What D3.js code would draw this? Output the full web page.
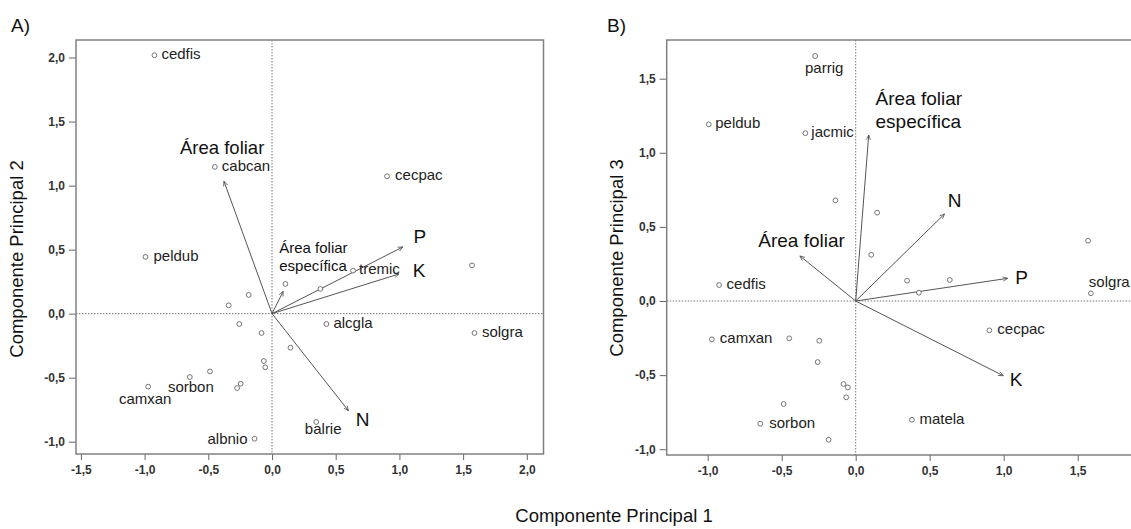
<!DOCTYPE html>
<html>
<head>
<meta charset="utf-8">
<script src="https://cdn.jsdelivr.net/npm/d3@7"></script>
<style>
  html, body { margin: 0; padding: 0; background: #fff; }
  svg { display: block; font-family: "Liberation Sans", Arial, sans-serif; }
</style>
</head>
<body>
<svg id="chart" width="1131" height="529"></svg>
<script>
// ---------------- DATA ----------------
// 24 species scores on the principal components
const pc1 = [-0.993, -0.972, -0.923, -0.645, -0.487, -0.449, -0.340, -0.274, -0.257, -0.246, -0.183, -0.137,
             -0.082, -0.064, -0.053, 0.105, 0.145, 0.347, 0.380, 0.427, 0.636, 0.903, 1.570, 1.589];
const pc2 = [0.443, -0.570, 2.018, -0.495, -0.451, 1.146, 0.065, -0.581, -0.081, -0.547, 0.146, -0.977,
             -0.151, -0.370, -0.419, 0.232, -0.266, -0.846, 0.193, -0.081, 0.336, 1.073, 0.377, -0.151];
const pc3 = [1.192, -0.258, 0.108, -0.828, -0.695, -0.252, 1.132, 1.653, -0.412, -0.268, -0.936, 0.679,
             -0.560, -0.650, -0.583, 0.312, 0.596, 0.137, -0.801, 0.056, 0.142, -0.198, 0.407, 0.052];
// species labels shown in each panel ("" = unlabelled)
const labelsA = ["peldub", "camxan", "cedfis", "sorbon", "", "cabcan", "", "", "", "", "", "albnio",
                 "", "", "", "", "", "balrie", "", "alcgla", "tremic", "cecpac", "", "solgra"];
const labelsB = ["peldub", "camxan", "cedfis", "sorbon", "", "", "jacmic", "parrig", "", "", "", "",
                 "", "", "", "", "", "", "matela", "", "", "cecpac", "", "solgra"];

// variable loadings (arrows)
const variables = ["Área foliar", "Área foliar específica", "P", "K", "N"];
const load1 = [-0.377, 0.088, 1.027, 0.997, 0.600];
const load2 = [1.034, 0.174, 0.521, 0.310, -0.758];
const load3 = [0.304, 1.120, 0.153, -0.504, 0.587];

// ticks
const ticksAx = [-1.5, -1.0, -0.5, 0.0, 0.5, 1.0, 1.5, 2.0];
const ticksAy = [-1.0, -0.5, 0.0, 0.5, 1.0, 1.5, 2.0];
const ticksBx = [-1.0, -0.5, 0.0, 0.5, 1.0, 1.5];
const ticksBy = [-1.0, -0.5, 0.0, 0.5, 1.0, 1.5];

const titleX = "Componente Principal 1";
const titleA = "Componente Principal 2";
const titleB = "Componente Principal 3";

// ---------------- LAYOUT ----------------
const fmt = v => d3.format(".1f")(v).replace(".", ",").replace("−", "-");

const svg = d3.select("#chart");
const defs = svg.append("defs");
defs.append("marker")
  .attr("id", "arr").attr("viewBox", "0 0 10 10")
  .attr("refX", 9).attr("refY", 5)
  .attr("markerWidth", 6).attr("markerHeight", 6)
  .attr("orient", "auto")
  .append("path").attr("d", "M1,1.5 L9,5 L1,8.5")
  .attr("fill", "none").attr("stroke", "#555").attr("stroke-width", 1.3);

// label placements (pixels relative to point): [dx, dy, anchor]
const placeA = {
  peldub: [8, 4, "start"], camxan: [-3, 17, "middle"], cedfis: [7, 4, "start"],
  sorbon: [1, 14.5, "middle"], cabcan: [7, 4, "start"], albnio: [-7, 5, "end"],
  balrie: [7, 12, "middle"], alcgla: [7, 4, "start"], tremic: [6, 3, "start"],
  cecpac: [8, 4, "start"], solgra: [7.5, 4, "start"]
};
const placeB = {
  peldub: [6.5, 4, "start"], camxan: [8, 4, "start"], cedfis: [7.5, 4, "start"],
  sorbon: [9, 4.5, "start"], jacmic: [6, 4, "start"], parrig: [9, 17, "middle"],
  matela: [7.5, 4, "start"], cecpac: [8, 4, "start"], solgra: [-2, -6, "start"]
};
// arrow label placements relative to arrow tip: [dx, dy, anchor, size, lines, lineHeight]
const varPlaceA = [
  [-1.8, -27, "middle", 18.5, ["Área foliar"], 0],
  [-4, -38.4, "start", 15, ["Área foliar", "específica"], 17.7],
  [10.7, -4.3, "start", 19, ["P"], 0],
  [13.6, 3, "start", 19, ["K"], 0],
  [7.2, 15.7, "start", 19, ["N"], 0]
];
const varPlaceB = [
  [1.7, -9.3, "middle", 19, ["Área foliar"], 0],
  [6.8, -30, "start", 19, ["Área foliar", "específica"], 23.3],
  [7.5, 5.7, "start", 19, ["P"], 0],
  [6.5, 10, "start", 19, ["K"], 0],
  [3.2, -7.3, "start", 19, ["N"], 0]
];

function panel(cfg) {
  const g = svg.append("g");
  const x = d3.scaleLinear().domain(cfg.xDomain).range([cfg.left, cfg.right]);
  const y = d3.scaleLinear().domain(cfg.yDomain).range([cfg.bottom, cfg.top]);

  // zero reference lines
  g.append("line").attr("x1", x(0)).attr("x2", x(0)).attr("y1", cfg.top).attr("y2", cfg.bottom)
    .attr("stroke", "#777").attr("stroke-width", 1).attr("stroke-dasharray", "1.5,1.5");
  g.append("line").attr("x1", cfg.left).attr("x2", cfg.right).attr("y1", y(0)).attr("y2", y(0))
    .attr("stroke", "#777").attr("stroke-width", 1).attr("stroke-dasharray", "1.5,1.5");

  // axes
  const ax = g.append("g").attr("transform", `translate(0,${cfg.bottom})`)
    .call(d3.axisBottom(x).tickValues(cfg.ticksX).tickFormat(fmt).tickSize(6).tickPadding(5));
  const ay = g.append("g").attr("transform", `translate(${cfg.left},0)`)
    .call(d3.axisLeft(y).tickValues(cfg.ticksY).tickFormat(fmt).tickSize(7).tickPadding(4));
  [ax, ay].forEach(a => {
    a.select(".domain").remove();
    a.selectAll(".tick line").attr("stroke", "#666");
    a.selectAll(".tick text").attr("fill", "#333").attr("font-size", 12)
      .attr("font-weight", "bold").attr("font-family", "'Liberation Sans', Arial, sans-serif");
  });

  // frame
  g.append("rect").attr("x", cfg.left).attr("y", cfg.top)
    .attr("width", cfg.right - cfg.left).attr("height", cfg.bottom - cfg.top)
    .attr("fill", "none").attr("stroke", "#808080").attr("stroke-width", 1.5);

  // arrows
  variables.forEach((v, i) => {
    g.append("line")
      .attr("x1", x(0)).attr("y1", y(0))
      .attr("x2", x(load1[i])).attr("y2", y(cfg.loadY[i]))
      .attr("stroke", "#555").attr("stroke-width", 1)
      .attr("marker-end", "url(#arr)");
  });

  // points
  g.selectAll("circle.pt").data(pc1.map((v, i) => ({ x: v, y: cfg.scoresY[i] })))
    .enter().append("circle").attr("class", "pt")
    .attr("cx", d => x(d.x)).attr("cy", d => y(d.y)).attr("r", 2.4)
    .attr("fill", "#fff").attr("stroke", "#666").attr("stroke-width", 0.9);

  // species labels
  cfg.labels.forEach((lab, i) => {
    if (!lab) return;
    const p = cfg.place[lab];
    g.append("text").attr("x", x(pc1[i]) + p[0]).attr("y", y(cfg.scoresY[i]) + p[1])
      .attr("text-anchor", p[2]).attr("font-size", 15).attr("fill", "#222").text(lab);
  });

  // variable labels
  variables.forEach((v, i) => {
    const p = cfg.varPlace[i];
    const t = g.append("text").attr("x", x(load1[i]) + p[0]).attr("y", y(cfg.loadY[i]) + p[1])
      .attr("text-anchor", p[2]).attr("font-size", p[3]).attr("fill", "#111");
    p[4].forEach((line, k) => {
      t.append("tspan").attr("x", x(load1[i]) + p[0]).attr("dy", k === 0 ? 0 : p[5]).text(line);
    });
  });

  // y title
  g.append("text")
    .attr("transform", `translate(${cfg.yTitleX},${cfg.yTitleY}) rotate(-90)`)
    .attr("text-anchor", "middle").attr("font-size", 18.5).attr("fill", "#111").text(cfg.yTitle);
  // panel letter
  g.append("text").attr("x", cfg.letterX).attr("y", 32).attr("font-size", 19).attr("fill", "#111").text(cfg.letter);
}

panel({
  left: 76, right: 543.5, top: 40, bottom: 454,
  xDomain: [-1.5385, 2.131], yDomain: [-1.096, 2.137],
  ticksX: ticksAx, ticksY: ticksAy,
  scoresY: pc2, loadY: load2, labels: labelsA, place: placeA, varPlace: varPlaceA,
  yTitle: titleA, yTitleX: 23, yTitleY: 259, letter: "A)", letterX: 11
});
panel({
  left: 666.7, right: 1140, top: 40, bottom: 455,
  xDomain: [-1.277, 1.921], yDomain: [-1.039, 1.761],
  ticksX: ticksBx, ticksY: ticksBy,
  scoresY: pc3, loadY: load3, labels: labelsB, place: placeB, varPlace: varPlaceB,
  yTitle: titleB, yTitleX: 623, yTitleY: 258, letter: "B)", letterX: 607
});

svg.append("text").attr("x", 614).attr("y", 522).attr("text-anchor", "middle")
  .attr("font-size", 18.5).attr("fill", "#111").text(titleX);
</script>
</body>
</html>
